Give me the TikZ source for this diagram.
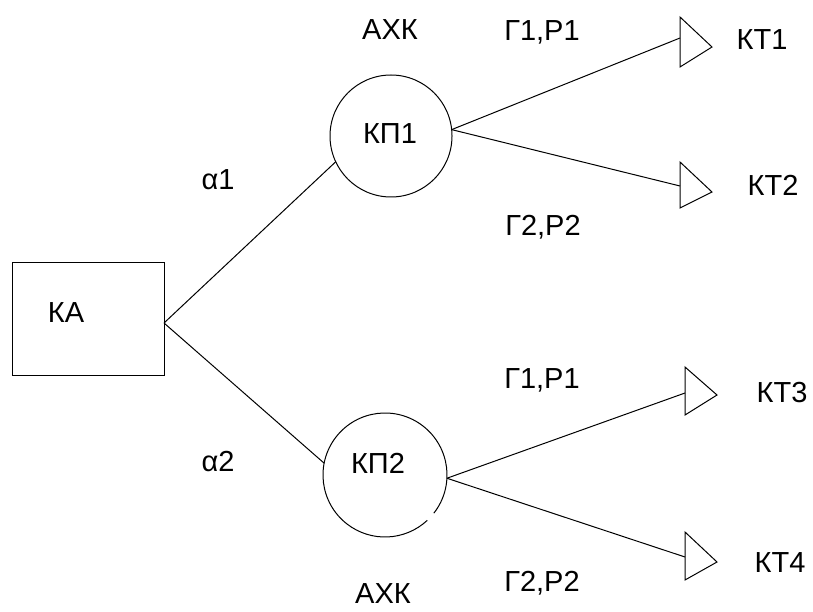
\documentclass[tikz,border=0pt]{standalone}
\usepackage{fontspec}
\setmainfont{Liberation Sans}
\usetikzlibrary{calc}
\begin{document}
\begin{tikzpicture}[x=1pt,y=-1pt,line width=1pt,
  lbl/.style={inner sep=0pt,font=\fontsize{29}{31}\selectfont},
  kbox/.style={draw,rectangle,minimum width=152pt,minimum height=113pt,inner sep=0pt,outer sep=0pt},
  kcirc/.style={circle,inner sep=0pt,outer sep=0pt},
  wire/.style={draw,line width=1pt},
  tri/.style={draw,line width=1pt,line join=miter}]
\useasboundingbox (0,0) rectangle (813,612);
% source box
\node[kbox] (ka) at (88,318.5) {};
\node[lbl] (kat) at (66,313) {КА};
\coordinate (kaout) at ($(ka.east)+(0,4.5)$);
% circles
\node[kcirc,draw,minimum size=122pt] (c1) at (391,136) {};
\node[lbl] (c1t) at (390,134) {КП1};
\node[kcirc,minimum size=124pt] (c2) at (385,475) {};
\draw (c2.-38) arc[start angle=-38,end angle=313,radius=62pt];
\node[lbl] (c2t) at (378,463) {КП2};
% triangles
\coordinate (t1) at (680,38);
\coordinate (t2) at (680,186);
\coordinate (t3) at (685,393);
\coordinate (t4) at (685,557);
\draw[tri] (680,17) -- (712,47) -- (680,67) -- cycle;
\draw[tri] (680,162) -- (712,192) -- (680,208) -- cycle;
\draw[tri] (685,367) -- (717,395) -- (685,415) -- cycle;
\draw[tri] (685,532) -- (717,562) -- (685,580) -- cycle;
% connectors
\draw[wire] (kaout) -- (c1.205);
\draw[wire] (kaout) -- (c2.169);
\draw[wire] (c1.6) -- (t1);
\draw[wire] (c1.6) -- (t2);
\draw[wire] (c2.-3) -- (t3);
\draw[wire] (c2.-3) -- (t4);
% labels
\node[lbl] (axk1) at (390,30) {АХК};
\node[lbl] (g1a) at (542,32) {Г1,Р1};
\node[lbl] (kt1) at (762,40) {КТ1};
\node[lbl] (al1) at (218,180) {α1};
\node[lbl] (g2a) at (543,227) {Г2,Р2};
\node[lbl] (kt2) at (773,185) {КТ2};
\node[lbl] (g1b) at (542,380) {Г1,Р1};
\node[lbl] (kt3) at (782,393) {КТ3};
\node[lbl] (al2) at (218,462) {α2};
\node[lbl] (g2b) at (542,583) {Г2,Р2};
\node[lbl] (kt4) at (780,563) {КТ4};
\node[lbl] (axk2) at (383,594) {АХК};
\end{tikzpicture}
\end{document}
